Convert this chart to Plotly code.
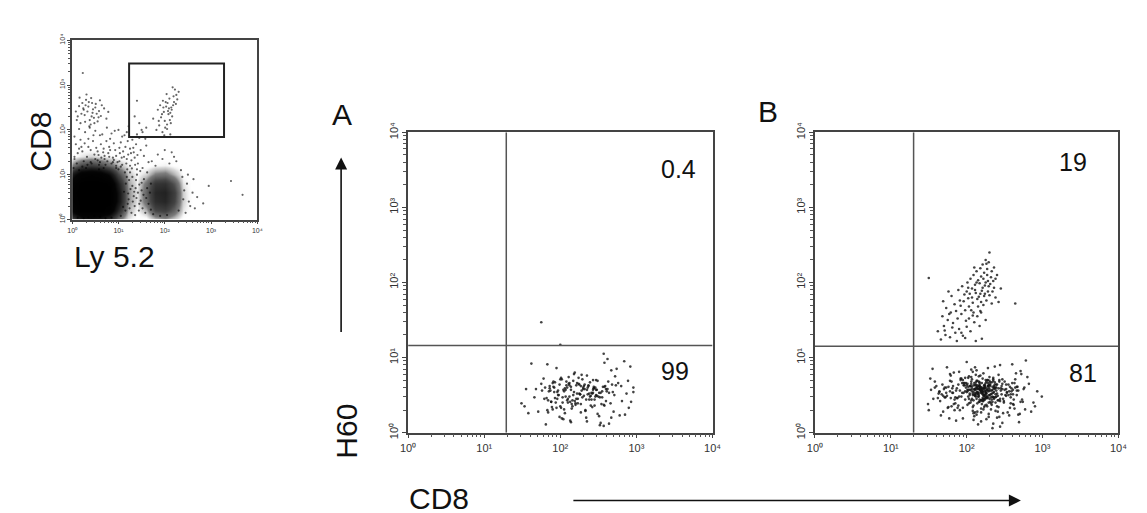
import math
import plotly.graph_objects as go

W, H = 1147, 513
FONT = "Liberation Sans, Arial, sans-serif"

# ---------------- data (log10 fluorescence, decades 0..4) ----------------
decades = [0, 1, 2, 3, 4]
tick_text = ["10⁰", "10¹", "10²", "10³", "10⁴"]

# top-left panel (Ly 5.2 vs CD8): density of the two dense populations
tl_grid_x = [0.0, 0.2, 0.4, 0.6, 0.8, 1.0, 1.2, 1.4, 1.6, 1.8, 2.0, 2.2, 2.4, 2.6]
tl_grid_y = [0.0, 0.2, 0.4, 0.6, 0.8, 1.0, 1.2, 1.4, 1.6]
tl_density = [
    [30, 55, 60, 55, 40, 18, 4, 0, 0, 8, 12, 6, 0, 0],
    [75, 100, 100, 100, 90, 45, 10, 2, 10, 30, 34, 22, 4, 0],
    [90, 100, 100, 100, 100, 60, 14, 4, 20, 42, 46, 32, 6, 0],
    [95, 100, 100, 100, 100, 60, 14, 4, 22, 45, 48, 34, 6, 0],
    [85, 100, 100, 100, 95, 50, 12, 3, 18, 38, 40, 26, 4, 0],
    [55, 85, 90, 85, 65, 30, 8, 2, 6, 16, 18, 10, 1, 0],
    [15, 30, 35, 30, 20, 10, 3, 0, 0, 2, 3, 1, 0, 0],
    [0, 4, 6, 4, 2, 0, 0, 0, 0, 0, 0, 0, 0, 0],
    [0, 0, 0, 0, 0, 0, 0, 0, 0, 0, 0, 0, 0, 0],
]
# sparse events of the top-left panel (Ly5.2, CD8)
tl_events = [
    (0.12,2.30),(0.25,2.45),(0.38,2.22),(0.51,2.58),(0.30,2.67),(0.44,2.38),(0.18,2.15),(0.62,2.31),(0.35,2.52),(0.08,2.41),
    (0.55,2.19),(0.27,2.33),(0.41,2.71),(0.69,2.48),(0.22,2.60),(0.47,2.27),(0.33,2.41),(0.15,2.53),(0.58,2.42),(0.40,2.12),
    (0.74,2.25),(0.28,2.18),(0.50,2.50),(0.36,2.62),(0.20,2.36),(0.64,2.55),(0.45,2.46),(0.10,2.22),(0.31,2.79),(0.53,2.36),
    (0.42,2.30),(0.24,2.48),(0.60,2.66),(0.37,2.08),(0.78,2.40),(0.16,2.72),(0.48,2.15),(0.57,2.28),(0.29,2.55),(0.43,2.60),
    (1.95,1.95),(2.05,2.02),(1.88,2.10),(2.12,1.90),(2.00,2.20),(2.08,2.35),(1.92,2.28),(2.15,2.45),(2.03,2.52),(2.20,2.62),
    (1.98,2.40),(2.10,2.70),(2.25,2.78),(2.06,2.60),(1.85,2.45),(2.18,2.55),(2.13,2.15),(1.96,2.65),(2.22,2.90),(2.01,2.05),
    (2.09,2.48),(2.16,2.30),(1.90,2.55),(2.04,2.80),(2.27,2.68),(1.99,1.88),(2.11,2.22),(2.07,2.42),(1.94,2.35),(2.19,2.75),
    (2.02,2.62),(2.14,2.50),(1.87,2.20),(2.24,2.58),(2.05,2.12),(2.30,2.85),(1.82,2.00),(2.17,2.95),(1.97,2.50),(2.12,2.38),
    (1.75,2.25),(1.60,2.05),(1.45,2.15),(1.52,1.95),(1.35,2.30),
    (0.10,1.25),(0.32,1.40),(0.55,1.32),(0.78,1.48),(1.02,1.30),(1.21,1.45),(0.20,1.62),(0.45,1.75),(0.68,1.58),(0.90,1.70),
    (1.15,1.62),(1.35,1.38),(0.05,1.85),(0.28,1.95),(0.60,1.88),(0.85,1.92),(1.08,1.85),(1.30,1.78),(1.48,1.55),(0.15,2.02),
    (0.40,1.55),(0.72,1.22),(0.95,1.15),(1.25,1.20),(1.42,1.25),(0.50,1.98),(0.75,2.05),(1.00,2.00),(1.18,1.95),(1.40,1.90),
    (0.25,1.30),(0.48,1.45),(0.62,1.68),(0.88,1.38),(1.10,1.52),(1.32,1.60),(0.12,1.48),(0.35,1.80),(0.58,1.12),(0.82,1.80),
    (1.05,1.72),(1.28,1.32),(1.55,1.42),(0.08,1.68),(0.30,1.15),(0.52,1.60),(0.70,1.35),(0.93,1.55),(1.12,1.40),(1.38,1.68),
    (0.18,1.78),(0.42,1.25),(0.65,1.90),(0.98,1.28),(1.20,1.75),(1.45,1.82),(0.22,1.52),(0.57,1.44),(0.80,1.62),(1.03,1.48),
    (1.60,1.65),(1.52,1.15),(1.65,1.28),(0.38,2.05),(0.92,1.98),(1.22,2.08),(1.50,2.00),(0.05,1.40),(0.67,1.50),(1.33,1.50),
    (0.27,1.70),(0.85,1.25),(1.13,1.88),(0.46,1.88),(0.74,1.75),(1.40,1.12),(1.58,1.80),(0.03,1.15),(0.60,1.28),(1.25,1.58),
    (1.15,0.20),(1.22,0.45),(1.30,0.75),(1.18,0.95),(1.35,0.30),(1.42,0.60),(1.25,1.05),(1.38,0.88),(1.48,0.42),(1.12,0.62),
    (1.28,0.15),(1.45,0.78),(1.20,0.35),(1.33,0.52),(1.40,1.00),(1.52,0.25),(1.16,0.80),(1.26,0.68),(1.36,0.10),(1.50,0.65),
    (1.55,0.90),(1.60,0.48),(1.58,0.15),(1.44,0.20),(1.23,0.88),(1.31,0.40),(1.47,1.08),(1.19,1.12),(1.37,0.70),(1.54,0.55),
    (0.05,1.35),(0.22,1.18),(0.40,1.28),(0.58,1.22),(0.76,1.30),(0.95,1.20),(0.15,1.10),(0.33,1.22),(0.50,1.35),(0.68,1.15),
    (0.88,1.28),(1.05,1.18),(0.12,0.04),(0.35,0.05),(0.60,0.06),(0.85,0.04),(1.05,0.08),(0.25,0.03),(0.48,0.08),(0.72,0.03),
    (1.65,0.35),(1.70,0.80),(1.62,1.05),(2.40,0.45),(2.48,0.80),(2.55,0.30),(2.35,1.10),(2.45,0.15),(1.80,1.20),(2.10,1.25),
    (1.95,1.35),(2.25,1.30),(2.60,0.60),(1.75,0.12),(2.05,0.10),(2.30,0.20),(2.50,1.00),(1.68,0.60),(2.62,0.90),(2.42,0.65),
    (1.85,1.45),(2.15,1.50),(2.38,0.95),(1.72,1.30),(2.52,0.40),(2.00,1.55),(1.90,0.08),(2.20,1.40),(2.70,0.50),(2.65,0.25),
    (2.83,0.36),(3.43,0.86),(3.68,0.55),(2.95,0.75),(1.40,2.65),(0.23,3.27),
    (0.95,1.42),(1.08,1.22),(1.18,1.35),(0.82,1.55),(1.27,1.48),(1.02,1.60),(0.70,1.42),(1.36,1.22),(1.14,1.05),(1.30,0.95),
    (1.21,0.58),(1.10,0.28),(1.34,0.62),(1.45,0.35),(1.29,1.14),(0.90,1.33),(0.63,1.38),(1.00,1.12),(1.17,1.25),(1.41,1.44),
    (0.35,1.62),(0.55,1.52),(0.15,1.58),(0.80,1.40),(1.07,1.38),(1.24,0.25),(1.39,0.48),(1.50,0.82),(1.62,0.70),(1.70,0.22),
]
tl_gate = {"x": [1.23, 3.28], "y": [1.84, 3.48]}

# panel A (CD8 vs H60)
A_cd8 = [
    2.05,2.31,1.88,2.47,2.12,1.95,2.60,2.22,1.79,2.38,
    2.01,2.54,1.92,2.27,2.69,2.08,1.84,2.43,2.16,2.73,
    1.97,2.35,2.10,1.86,2.51,2.24,2.03,2.64,1.90,2.29,
    2.45,2.14,1.76,2.58,2.19,2.40,1.99,2.33,2.07,2.81,
    1.93,2.26,2.49,2.11,1.82,2.62,2.20,2.37,2.04,2.55,
    2.17,1.89,2.42,2.30,1.96,2.67,2.13,2.48,1.83,2.25,
    2.39,2.02,2.57,2.18,1.91,2.34,2.76,2.09,2.44,1.98,
    2.28,2.15,1.87,2.52,2.21,2.06,2.41,2.63,1.94,2.32,
    2.00,2.46,2.23,1.78,2.36,2.14,2.59,2.27,1.85,2.50,
    2.12,2.70,2.04,2.38,1.95,2.22,2.45,2.08,2.31,2.85,
    1.68,2.19,2.43,2.01,2.56,1.92,2.29,2.11,2.66,2.35,
    1.99,2.24,2.47,1.80,2.16,2.39,2.05,2.61,2.27,1.93,
    2.53,2.13,2.32,1.88,2.44,2.07,2.72,2.20,1.97,2.37,
    2.10,2.49,1.84,2.25,2.58,2.03,2.30,2.17,2.42,1.90,
    2.64,2.14,2.34,2.00,2.51,1.86,2.23,2.46,2.09,2.78,
    1.75,2.26,2.40,2.06,2.55,2.18,1.96,2.33,2.12,2.60,
    2.28,1.91,2.48,2.02,2.36,2.21,1.83,2.43,2.15,2.68,
    1.62,1.55,1.49,2.57,2.96,2.96,2.89,2.57,1.81,1.58,
    2.90,2.84,2.80,2.92,1.66,1.71,2.74,2.87,1.53,2.93,
    2.52,2.47,2.62,2.35,2.41,2.58,2.67,2.44,2.53,2.71,
    1.75,2.00,
]
A_h60 = [
    0.55,0.62,0.41,0.70,0.48,0.33,0.58,0.66,0.45,0.52,
    0.73,0.38,0.60,0.27,0.54,0.68,0.43,0.57,0.35,0.63,
    0.50,0.76,0.40,0.59,0.22,0.65,0.47,0.53,0.31,0.71,
    0.44,0.61,0.56,0.36,0.80,0.49,0.64,0.29,0.57,0.42,
    0.67,0.51,0.25,0.74,0.46,0.58,0.39,0.62,0.18,0.55,
    0.69,0.34,0.52,0.60,0.45,0.83,0.41,0.57,0.30,0.64,
    0.48,0.71,0.37,0.54,0.61,0.20,0.66,0.43,0.59,0.50,
    0.77,0.32,0.56,0.47,0.63,0.26,0.53,0.68,0.40,0.58,
    0.35,0.60,0.45,0.72,0.51,0.14,0.62,0.38,0.55,0.48,
    0.66,0.28,0.57,0.44,0.86,0.52,0.36,0.63,0.49,0.24,
    0.58,0.42,0.70,0.33,0.61,0.54,0.47,0.65,0.39,0.57,
    0.21,0.73,0.50,0.60,0.43,0.67,0.31,0.55,0.62,0.46,
    0.53,0.16,0.64,0.41,0.59,0.48,0.75,0.37,0.56,0.63,
    0.45,0.69,0.27,0.52,0.61,0.40,0.58,0.50,0.34,0.66,
    0.12,0.57,0.44,0.71,0.53,0.62,0.39,0.48,0.60,0.23,
    0.65,0.51,0.36,0.59,0.47,0.78,0.54,0.30,0.63,0.42,
    0.56,0.68,0.49,0.19,0.60,0.45,0.91,0.53,0.38,0.64,
    0.92,0.58,0.39,1.05,0.60,0.54,0.69,0.09,0.11,0.26,
    0.33,0.95,0.62,0.88,0.47,0.28,0.85,0.52,0.35,0.41,
    0.10,0.57,0.98,0.15,0.44,0.93,0.20,0.61,0.13,0.50,
    1.47,1.17,
]

# panel B, H60-negative population
B_lo_cd8 = [
    2.21,2.05,2.34,1.92,2.16,2.47,2.28,1.80,2.11,2.39,2.24,1.98,2.55,2.19,2.08,2.31,1.71,2.26,2.43,2.14,
    2.02,2.36,2.18,2.61,1.95,2.23,2.12,2.44,1.86,2.29,2.17,2.52,2.07,2.33,1.64,2.20,2.40,2.10,2.27,1.90,
    2.25,2.13,2.49,2.01,2.37,2.22,1.78,2.30,2.15,2.66,2.09,2.35,1.96,2.19,2.45,2.04,2.28,1.83,2.24,2.58,
    2.16,2.42,2.06,2.32,1.93,2.21,2.50,2.11,2.38,1.74,2.26,2.14,2.47,2.00,2.34,2.18,2.72,1.88,2.23,2.09,
    2.30,1.99,2.41,2.17,2.56,2.07,2.28,1.85,2.20,2.36,2.12,2.63,1.94,2.25,2.03,2.44,2.15,1.69,2.31,2.22,
    2.10,2.39,1.97,2.27,2.53,2.14,2.33,1.81,2.19,2.46,2.05,2.29,2.68,2.16,1.91,2.37,2.24,2.01,2.43,2.12,
    1.58,2.21,2.35,2.08,2.48,2.18,1.89,2.26,2.59,2.13,2.32,1.76,2.23,2.40,2.06,2.17,2.52,1.95,2.29,2.11,
    2.36,2.02,2.20,2.64,1.87,2.25,2.15,2.45,2.09,2.31,1.67,2.22,2.38,2.04,2.19,2.55,1.93,2.27,2.13,2.42,
    2.07,2.34,1.82,2.24,2.50,2.16,2.00,2.30,2.74,2.11,2.41,1.98,2.21,2.35,1.73,2.26,2.14,2.47,2.03,2.18,
    2.28,1.90,2.39,2.12,2.57,2.22,1.84,2.33,2.08,2.44,2.17,1.62,2.25,2.61,2.05,2.30,2.19,1.96,2.37,2.10,
    1.52,1.56,1.50,1.60,1.55,1.63,1.49,1.58,1.66,1.53,2.82,2.88,2.78,2.93,2.85,2.99,2.80,2.76,2.90,2.71,
    1.70,1.75,1.79,1.72,1.68,1.77,1.81,1.74,1.65,1.78,2.62,2.67,2.70,2.65,2.58,2.73,2.69,2.60,2.66,2.77,
    2.20,2.23,2.18,2.26,2.15,2.21,2.24,2.19,2.27,2.16,2.22,2.25,2.17,2.28,2.14,2.20,2.23,2.29,2.13,2.24,
    2.09,2.31,2.02,2.35,2.12,2.40,1.99,2.33,2.06,2.44,2.11,2.38,1.94,2.30,2.08,2.42,2.01,2.36,2.10,2.47,
    1.85,2.52,1.89,2.56,1.92,2.49,1.87,2.54,1.97,2.51,1.83,2.58,1.91,2.46,1.86,2.53,1.95,2.48,1.88,2.57,
    2.18,2.26,2.21,2.14,2.29,2.17,2.24,2.12,2.27,2.20,2.15,2.30,2.19,2.23,2.11,2.28,2.16,2.25,2.22,2.13,
    2.05,2.37,2.00,2.32,2.07,2.41,2.03,2.34,1.98,2.39,2.09,2.36,2.04,2.43,2.01,2.31,2.06,2.38,1.96,2.35,
    1.73,2.62,1.80,2.59,1.76,2.64,1.69,2.68,1.82,2.61,1.78,2.71,1.64,2.63,1.84,2.66,1.71,2.60,1.79,2.75,
    2.21,2.19,2.25,2.16,2.23,2.18,2.27,2.22,2.14,2.20,2.24,2.17,2.26,2.21,2.15,2.28,2.19,2.23,2.12,2.25,
    2.10,2.32,2.07,2.35,2.13,2.29,2.04,2.38,2.11,2.33,2.08,2.40,2.02,2.30,2.14,2.36,2.06,2.42,2.09,2.34,
]
B_lo_h60 = [
    0.55,0.62,0.48,0.70,0.41,0.58,0.66,0.35,0.52,0.60,0.44,0.73,0.50,0.57,0.29,0.64,0.47,0.53,0.68,0.39,
    0.61,0.45,0.76,0.51,0.33,0.59,0.67,0.42,0.56,0.25,0.63,0.49,0.71,0.37,0.54,0.60,0.20,0.58,0.46,0.81,
    0.52,0.69,0.40,0.57,0.64,0.31,0.55,0.74,0.48,0.61,0.17,0.53,0.66,0.43,0.59,0.50,0.86,0.38,0.62,0.47,
    0.58,0.34,0.65,0.51,0.72,0.44,0.57,0.27,0.60,0.49,0.68,0.54,0.13,0.63,0.41,0.56,0.78,0.46,0.59,0.36,
    0.50,0.66,0.43,0.61,0.23,0.55,0.70,0.39,0.58,0.47,0.64,0.32,0.53,0.60,0.45,0.90,0.52,0.28,0.67,0.42,
    0.57,0.48,0.63,0.35,0.54,0.69,0.44,0.59,0.15,0.51,0.62,0.40,0.56,0.75,0.30,0.58,0.46,0.65,0.21,0.53,
    0.60,0.42,0.71,0.50,0.26,0.57,0.64,0.37,0.55,0.83,0.47,0.61,0.34,0.52,0.68,0.44,0.58,0.19,0.63,0.49,
    0.54,0.73,0.38,0.60,0.46,0.66,0.11,0.56,0.43,0.62,0.51,0.79,0.40,0.57,0.32,0.64,0.48,0.70,0.24,0.59,
    0.45,0.61,0.53,0.36,0.68,0.50,0.94,0.58,0.41,0.63,0.28,0.55,0.72,0.47,0.60,0.18,0.54,0.65,0.39,0.57,
    0.62,0.48,0.56,0.77,0.33,0.59,0.44,0.67,0.52,0.08,0.61,0.46,0.70,0.38,0.57,0.64,0.27,0.53,0.88,0.50,
    0.72,0.45,0.30,0.62,0.85,0.52,0.38,0.68,0.23,0.57,0.65,0.40,0.96,0.55,0.28,0.48,0.74,0.60,0.35,0.82,
    0.58,0.33,0.76,0.47,0.64,0.19,0.53,0.87,0.42,0.69,0.37,0.61,0.25,0.79,0.51,0.44,0.14,0.66,0.56,0.31,
    0.55,0.50,0.61,0.46,0.58,0.52,0.64,0.43,0.57,0.62,0.49,0.54,0.67,0.47,0.59,0.53,0.44,0.60,0.51,0.56,
    0.63,0.41,0.57,0.69,0.48,0.35,0.60,0.52,0.74,0.45,0.58,0.29,0.66,0.50,0.81,0.43,0.55,0.62,0.22,0.71,
    0.47,0.64,0.36,0.55,0.72,0.42,0.59,0.27,0.66,0.50,0.80,0.39,0.56,0.62,0.16,0.53,0.70,0.45,0.33,0.61,
    0.59,0.52,0.46,0.63,0.55,0.41,0.60,0.57,0.49,0.66,0.53,0.45,0.58,0.62,0.50,0.56,0.68,0.48,0.54,0.61,
    0.40,0.67,0.54,0.31,0.61,0.49,0.75,0.57,0.44,0.64,0.26,0.59,0.52,0.70,0.37,0.56,0.84,0.47,0.63,0.12,
    0.53,0.44,0.68,0.59,0.34,0.71,0.49,0.24,0.62,0.57,0.78,0.41,0.55,0.66,0.30,0.50,0.60,0.91,0.46,0.58,
    0.51,0.60,0.56,0.48,0.63,0.53,0.58,0.45,0.61,0.54,0.50,0.65,0.47,0.57,0.52,0.62,0.55,0.49,0.59,0.53,
    0.66,0.39,0.58,0.73,0.45,0.21,0.62,0.51,0.87,0.56,0.34,0.64,0.48,0.69,0.28,0.60,0.43,0.77,0.54,0.06,
]
# panel B, H60-positive population (CD8, H60)
B_hi_events = [
    (1.66,1.24),(1.72,1.30),(1.62,1.35),(1.78,1.27),(1.70,1.42),(1.85,1.33),(1.75,1.50),(1.68,1.55),(1.90,1.38),(1.82,1.46),
    (1.95,1.29),(1.79,1.60),(1.88,1.52),(2.00,1.41),(1.73,1.66),(1.93,1.58),(2.05,1.35),(1.84,1.71),(1.98,1.63),(2.10,1.47),
    (1.91,1.76),(2.03,1.68),(1.80,1.82),(2.14,1.55),(1.97,1.84),(2.08,1.73),(2.18,1.62),(1.89,1.90),(2.02,1.79),(2.12,1.86),
    (2.22,1.70),(1.94,1.95),(2.07,1.92),(2.16,1.81),(2.26,1.76),(2.01,2.00),(2.11,1.97),(2.20,1.89),(2.30,1.83),(2.05,2.05),
    (2.15,2.03),(2.24,1.96),(2.34,1.88),(2.09,2.10),(2.19,2.08),(2.28,2.02),(2.13,2.15),(2.23,2.13),(2.32,2.07),(2.18,2.19),
    (2.27,2.18),(2.36,1.93),(2.21,2.24),(2.25,2.30),(2.30,2.40),(1.69,1.75),(1.76,1.88),(1.98,1.26),(2.38,1.80),(2.42,1.74),
    (1.50,2.06),(2.64,1.72),(2.45,1.92),(2.12,1.22),(2.20,1.25),(1.87,1.22),(2.26,2.25),(2.33,2.15),(2.17,1.42),(2.25,1.50),
    (2.08,1.56),(1.99,1.49),(2.15,1.68),(2.04,1.85),(2.29,1.95),(2.22,2.05),(2.10,2.20),(2.35,2.02),(2.40,2.10),(2.14,1.78),
    (1.86,1.62),(1.92,1.69),(2.06,1.63),(2.19,1.74),(2.28,1.88),(2.02,1.93),(2.17,1.99),(2.31,1.98),(1.81,1.40),(1.71,1.36),
    (2.24,1.85),(2.11,1.90),(2.27,2.10),(2.09,1.60),(1.96,1.75),(2.21,1.93),(2.36,2.20),(2.13,2.00),(2.03,1.52),(1.93,1.33),
    (2.33,1.72),(2.18,1.85),(2.07,1.80),(2.25,2.00),(1.77,1.58),(2.00,1.88),(2.19,1.60),(2.38,2.05),(2.23,1.82),(2.29,2.27),
]

# quadrant thresholds (CD8, H60) and quadrant percentages
quad_A = (1.29, 1.16)
quad_B = (1.30, 1.15)
pct_A = {"upper": "0.4", "lower": "99"}
pct_B = {"upper": "19", "lower": "81"}

# ---------------- figure ----------------
minor_vals = [math.log10(m * 10 ** d) for d in range(4) for m in range(2, 10)]


def px_x(p):
    return p / W


def px_y(p):
    return 1 - p / H


def axis(domain, anchor, fsize, tlen, mlen, is_y=False):
    a = dict(
        domain=domain, anchor=anchor, range=[0, 4], tickmode="array", tickvals=decades, ticktext=tick_text,
        ticks="outside", ticklen=tlen, tickwidth=1, tickcolor="#444",
        showline=True, mirror=True, linecolor="#444", linewidth=1.5,
        showgrid=False, zeroline=False, fixedrange=True,
        tickfont=dict(family=FONT, size=fsize, color="#333"),
        minor=dict(tickmode="array", tickvals=minor_vals, ticks="outside", ticklen=mlen,
                   tickcolor="#555", tickwidth=1, showgrid=False),
    )
    if is_y:
        a["tickangle"] = -90
    return a


fig = go.Figure()

fig.add_trace(go.Heatmap(
    x=tl_grid_x, y=tl_grid_y, z=tl_density, zmin=0, zmax=100, zsmooth="best",
    showscale=False, hoverinfo="skip", xaxis="x", yaxis="y",
    colorscale=[[0, "rgba(255,255,255,0)"], [0.05, "rgba(150,150,150,0.35)"],
                [0.15, "rgba(100,100,100,0.85)"], [0.3, "rgb(70,70,70)"],
                [0.5, "rgb(30,30,30)"], [0.7, "rgb(5,5,5)"], [1, "rgb(0,0,0)"]],
))
fig.add_trace(go.Scatter(
    x=[p[0] for p in tl_events], y=[p[1] for p in tl_events], mode="markers",
    marker=dict(size=2.2, color="rgba(0,0,0,0.6)"), hoverinfo="skip", xaxis="x", yaxis="y",
))
fig.add_trace(go.Scatter(
    x=A_cd8, y=A_h60, mode="markers",
    marker=dict(size=2.6, color="rgba(20,20,20,0.8)"), hoverinfo="skip", xaxis="x2", yaxis="y2",
))
fig.add_trace(go.Scatter(
    x=B_lo_cd8 + [p[0] for p in B_hi_events], y=B_lo_h60 + [p[1] for p in B_hi_events], mode="markers",
    marker=dict(size=2.6, color="rgba(20,20,20,0.8)"), hoverinfo="skip", xaxis="x3", yaxis="y3",
))

line_style = dict(color="#555", width=1.5)
shapes = [
    dict(type="rect", xref="x", yref="y", x0=tl_gate["x"][0], x1=tl_gate["x"][1],
         y0=tl_gate["y"][0], y1=tl_gate["y"][1], line=dict(color="#222", width=2)),
]
for xr, yr, (qx, qy) in (("x2", "y2", quad_A), ("x3", "y3", quad_B)):
    shapes.append(dict(type="line", xref=xr, yref=yr, x0=qx, x1=qx, y0=0, y1=4, line=line_style))
    shapes.append(dict(type="line", xref=xr, yref=yr, x0=0, x1=4, y0=qy, y1=qy, line=line_style))


def label(text, x, y, size, angle=0):
    return dict(text=text, x=px_x(x), y=px_y(y), xref="paper", yref="paper",
                xanchor="center", yanchor="middle", showarrow=False, textangle=angle,
                font=dict(family=FONT, size=size, color="#111"))


annotations = [
    label("CD8", 24, 128, 30, -90),
    label("Ly 5.2", 100, 246, 30),
    label("A", 331, 100, 30),
    label("B", 763, 96, 30),
    label(pct_A["upper"], 672, 156, 25),
    label(pct_A["lower"], 669, 364, 25),
    label(pct_B["upper"], 1073, 149, 25),
    label(pct_B["lower"], 1083, 366, 25),
    label("H60", 336, 427, 30, -90),
    label("CD8", 429, 496, 30),
    dict(x=px_x(330), y=px_y(144), xref="paper", yref="paper", ax=0, ay=176,
         showarrow=True, arrowhead=2, arrowsize=1.5, arrowwidth=1.6, arrowcolor="#111", text=""),
    dict(x=px_x(1020), y=px_y(498), xref="paper", yref="paper", ax=-449, ay=0,
         showarrow=True, arrowhead=2, arrowsize=1.5, arrowwidth=1.6, arrowcolor="#111", text=""),
]

fig.update_layout(
    width=W, height=H, margin=dict(l=0, r=0, t=0, b=0),
    paper_bgcolor="white", plot_bgcolor="white", showlegend=False,
    xaxis=axis([px_x(57), px_x(245)], "y", 7, 3, 2),
    yaxis=axis([px_y(208), px_y(23)], "x", 7, 3, 2, True),
    xaxis2=axis([px_x(398), px_x(707)], "y2", 11, 4, 3),
    yaxis2=axis([px_y(428), px_y(118)], "x2", 11, 4, 3, True),
    xaxis3=axis([px_x(811), px_x(1119)], "y3", 11, 4, 3),
    yaxis3=axis([px_y(428), px_y(118)], "x3", 11, 4, 3, True),
    shapes=shapes, annotations=annotations,
)

fig.write_html("out.html")
